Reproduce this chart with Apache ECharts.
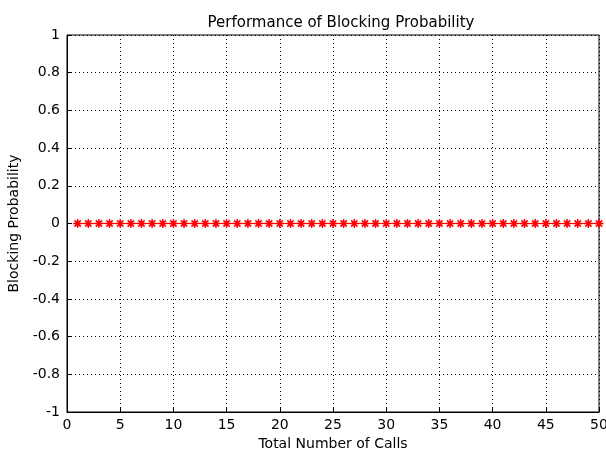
<!DOCTYPE html>
<html><head><meta charset="utf-8">
<script src="https://cdn.jsdelivr.net/npm/echarts@6/dist/echarts.min.js"></script>
<style>html,body{margin:0;padding:0;background:#fff}#c{width:606px;height:454px}</style>
</head><body><div id="c"></div>
<script>
var titleText = 'Performance of Blocking Probability';
var xName = 'Total Number of Calls';
var yName = 'Blocking Probability';
var calls = [1,2,3,4,5,6,7,8,9,10,11,12,13,14,15,16,17,18,19,20,21,22,23,24,25,26,27,28,29,30,31,32,33,34,35,36,37,38,39,40,41,42,43,44,45,46,47,48,49,50];
var blocking = [0,0,0,0,0,0,0,0,0,0,0,0,0,0,0,0,0,0,0,0,0,0,0,0,0,0,0,0,0,0,0,0,0,0,0,0,0,0,0,0,0,0,0,0,0,0,0,0,0,0];

var data = calls.map(function(c,i){return [c, blocking[i]];});
var font = 'DejaVu Sans, sans-serif';
var chart = echarts.init(document.getElementById('c'), null, {renderer:'canvas'});
chart.setOption({
  animation:false,
  backgroundColor:'#fff',
  title:{text:titleText,left:336,top:11,textAlign:'center',textStyle:{fontFamily:font,fontSize:15,fontWeight:'normal',color:'#000'}},
  grid:{left:67,right:7,top:35,bottom:42,containLabel:false,outerBoundsMode:'none',show:true,borderColor:'#000',borderWidth:1},
  xAxis:{type:'value',min:0,max:50,interval:5,
    name:xName,nameLocation:'middle',nameGap:23,nameTextStyle:{fontFamily:font,fontSize:14,color:'#000'},
    axisLine:{show:true,onZero:false,lineStyle:{color:'#000'}},
    axisTick:{show:true,inside:true,length:4,lineStyle:{color:'#000'}},
    axisLabel:{fontFamily:font,fontSize:14,color:'#000',margin:6},
    splitLine:{show:true,lineStyle:{color:'#000',type:[1,3],width:1}}},
  yAxis:{type:'value',min:-1,max:1,interval:0.2,
    name:yName,nameLocation:'middle',nameGap:43,nameTextStyle:{fontFamily:font,fontSize:14,color:'#000'},
    axisLine:{show:true,onZero:false,lineStyle:{color:'#000'}},
    axisTick:{show:true,inside:true,length:4,lineStyle:{color:'#000'}},
    axisLabel:{fontFamily:font,fontSize:14,color:'#000',margin:7,formatter:function(v){return String(Math.round(v*10)/10);}},
    splitLine:{show:true,lineStyle:{color:'#000',type:[1,3],width:1}}},
  series:[{type:'line',data:data,
    lineStyle:{color:'#ff0000',width:1},
    symbol:'path://M0,-10L0,10M-10,0L10,0M-7,-7L7,7M-7,7L7,-7',
    symbolSize:9,
    itemStyle:{color:'none',borderColor:'#ff0000',borderWidth:1.5},
    showSymbol:true}]
});
</script></body></html>
